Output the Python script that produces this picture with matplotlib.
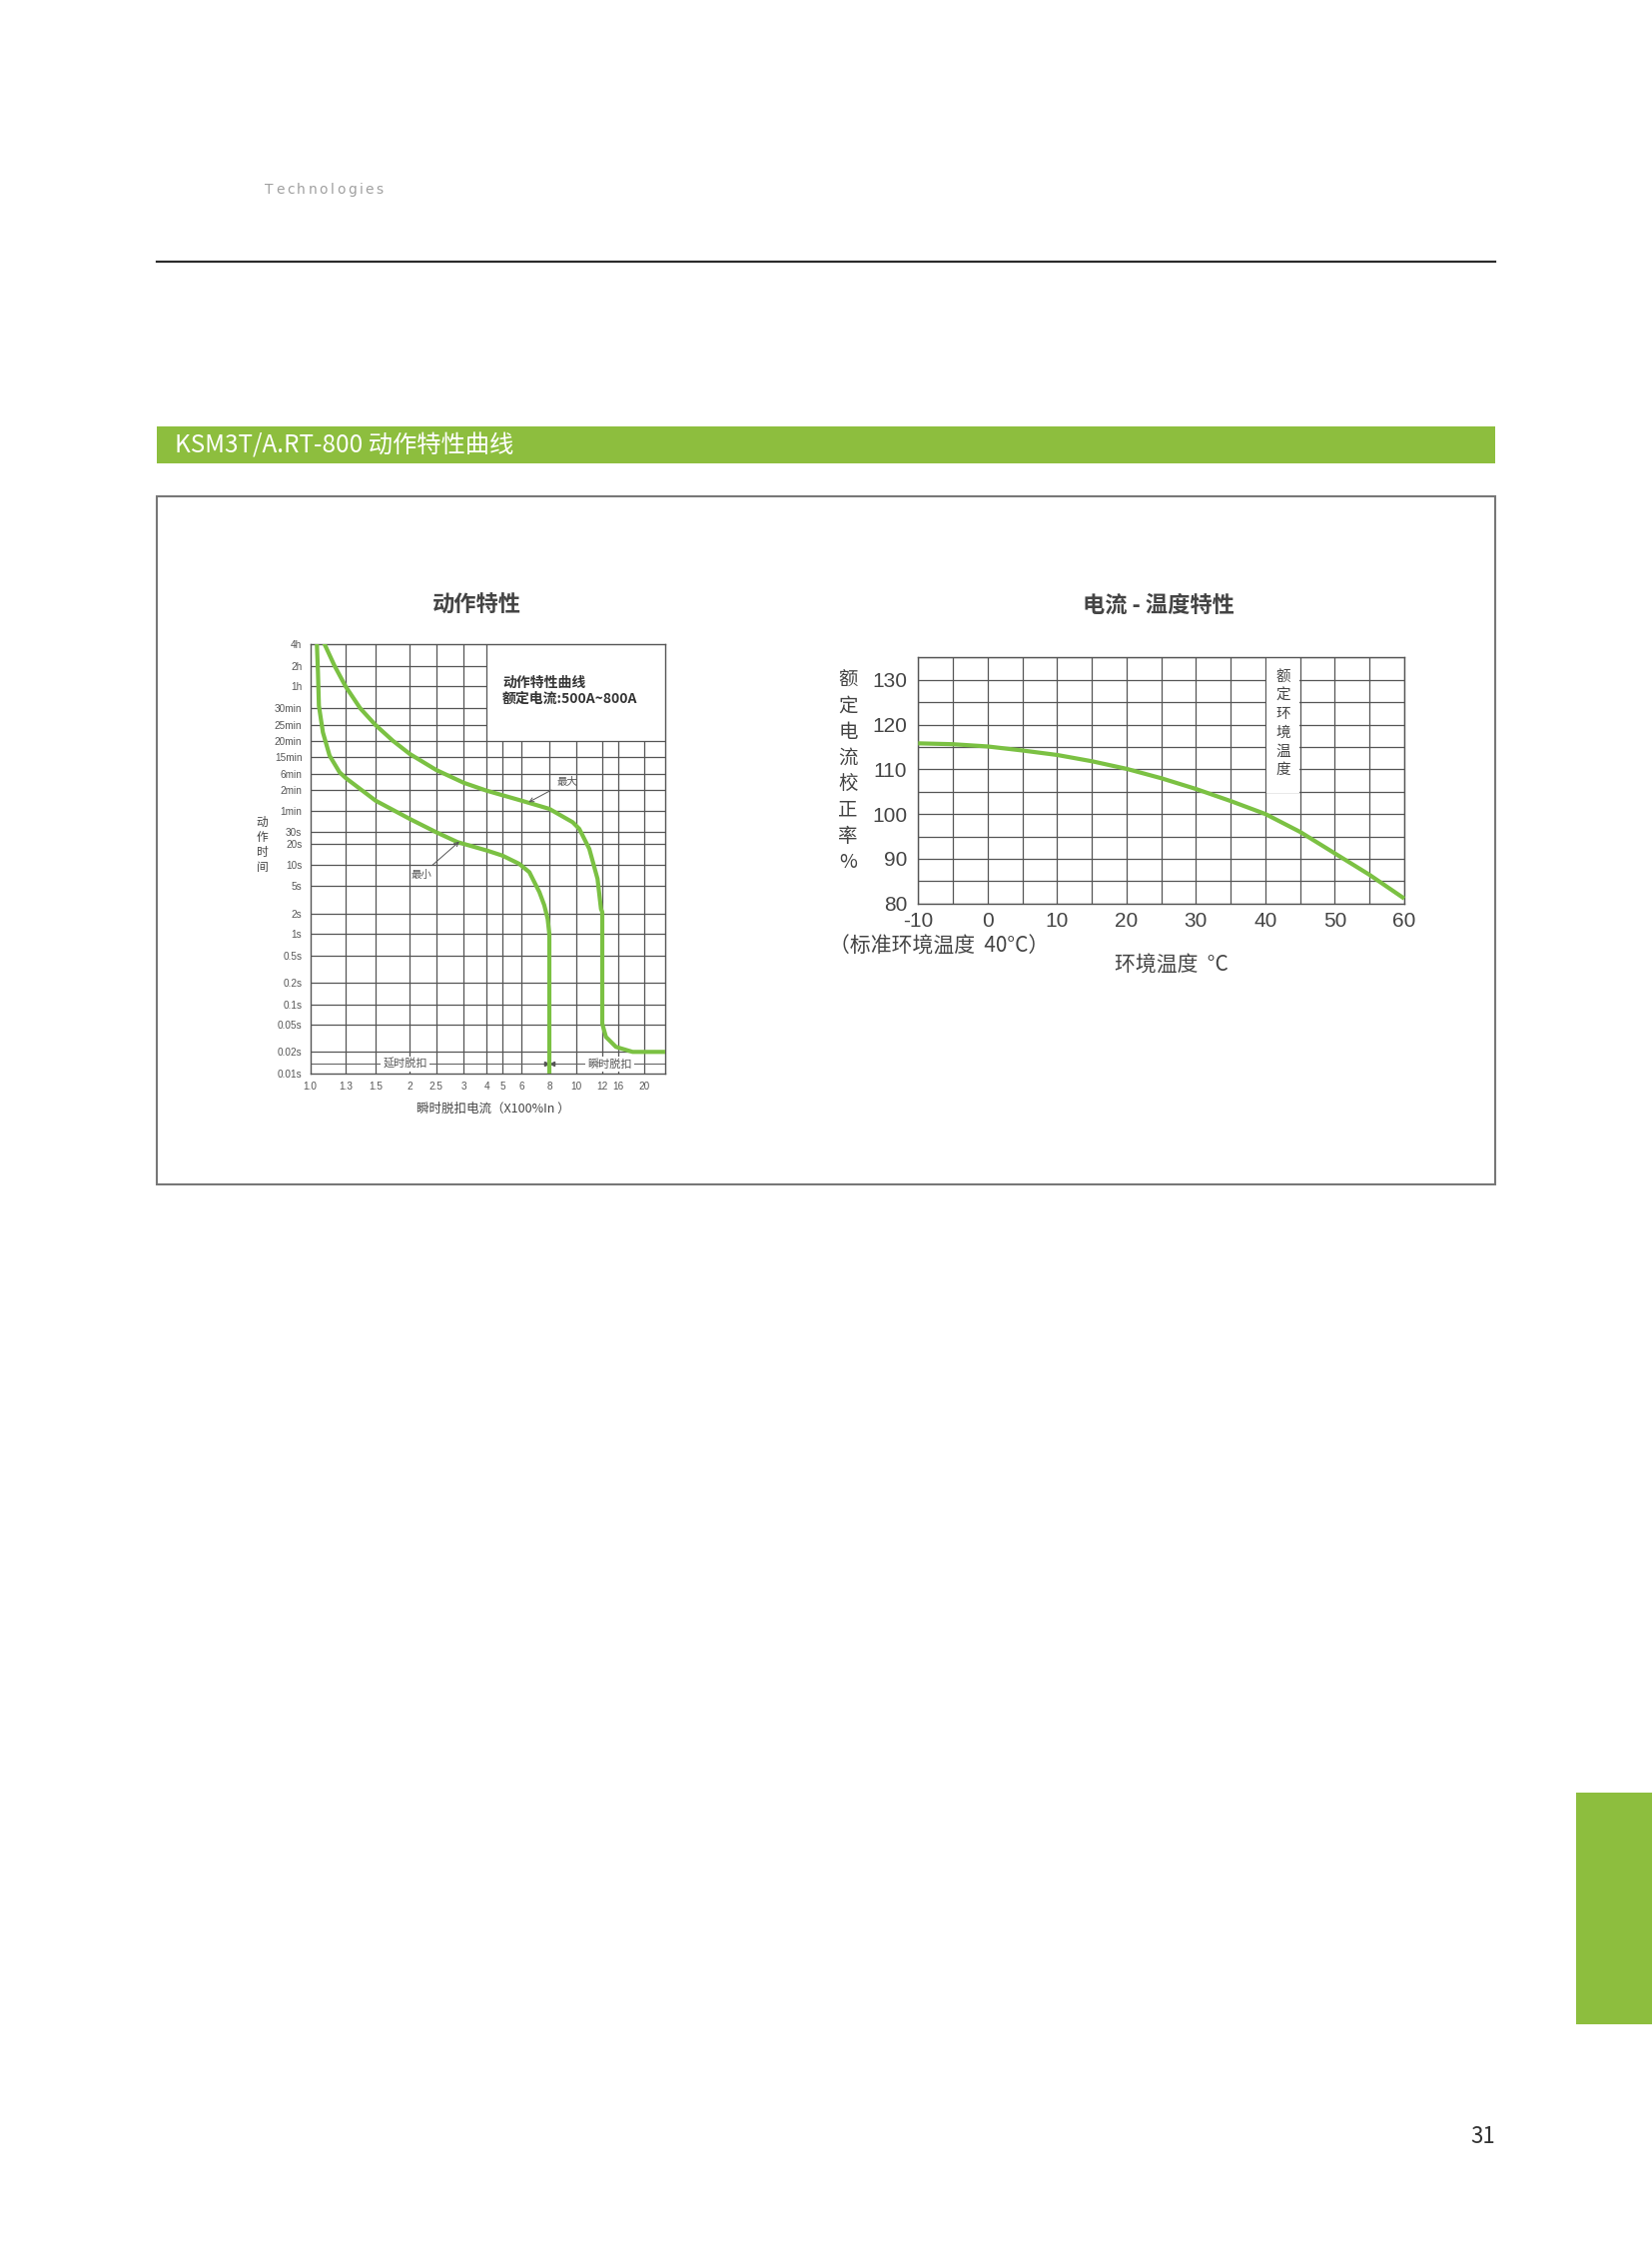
import numpy as np
import matplotlib
matplotlib.use('Agg')
import matplotlib.pyplot as plt
from matplotlib.patches import Rectangle

plt.rcParams['font.family'] = ['Noto Sans CJK SC', 'DejaVu Sans']
plt.rcParams['axes.unicode_minus'] = False
NUM_FONT = ['Liberation Sans', 'Noto Sans CJK SC']

# ---- left chart: trip curve (multiple of In vs. trip time in s) ----
x_tick_vals = [1.0, 1.3, 1.5, 2, 2.5, 3, 4, 5, 6, 8, 10, 12, 16, 20, 25]
x_tick_labels = ['1.0', '1.3', '1.5', '2', '2.5', '3', '4', '5', '6', '8', '10', '12', '16', '20', '']
y_tick_vals = [0.01, 0.02, 0.05, 0.1, 0.2, 0.5, 1, 2, 5, 10, 20, 30, 60, 120, 360,
               900, 1200, 1500, 1800, 3600, 7200, 14400]
y_tick_labels = ['0.01s', '0.02s', '0.05s', '0.1s', '0.2s', '0.5s', '1s', '2s', '5s', '10s',
                 '20s', '30s', '1min', '2min', '6min', '15min', '20min', '25min', '30min',
                 '1h', '2h', '4h']

# the printed grid is not evenly spaced, so the scale is defined by these breakpoints
x_scale_pos = [0, 35.3, 65.3, 99.6, 126, 153.6, 176.6, 192.3, 211.3, 239.3, 266.6, 292.3,
               308.6, 334.3, 355]
y_scale_pos = [0, 21.4, 48.7, 69.2, 90.4, 118, 139.4, 160, 187.4, 208.4, 229.7, 242, 263,
               284, 299.7, 316.4, 333, 348.7, 365.4, 387.4, 408, 429.4]

min_x = [1.056, 1.065, 1.073, 1.107, 1.164, 1.249, 1.3, 1.5, 2.0, 2.5, 2.89, 4, 5, 5.89,
         6.57, 7.29, 7.64, 7.88, 8, 8]
min_t = [14400, 6047, 2013, 1360, 929, 414, 300, 88.6, 48.1, 29.5, 21.4, 16.9, 14.5, 10.6,
         8.33, 4.34, 2.9, 1.74, 1, 0.01]

max_x = [1.122, 1.206, 1.3, 1.398, 1.5, 1.752, 2.0, 2.5, 3, 4, 6, 8, 9.71, 10.21, 10.99,
         11.63, 11.9, 12, 12, 12.9, 15.36, 18.2, 25]
max_t = [14400, 7200, 3600, 1800, 1500, 1200, 960, 490, 225, 117, 88.6, 65, 43.4, 33.9,
         17.65, 6.74, 2.51, 2.15, 0.0524, 0.0365, 0.0255, 0.02, 0.02]

# ---- right chart: current correction vs. ambient temperature ----
temp = [-10, -5, 0, 5, 10, 15, 20, 25, 30, 35, 40, 45, 50, 55, 60]
corr = [115.8, 115.6, 115.1, 114.2, 113.2, 111.8, 110.1, 108.0, 105.6, 102.9, 100.0,
        96.0, 91.2, 86.4, 81.1]

GREEN = '#8dbe3e'
LINE_GREEN = '#7bc143'
GRID = '#555555'
TXT = '#444444'

W, H = 1654, 2244


def px_axes(l, t, r, b):
    return [l / W, 1 - b / H, (r - l) / W, (b - t) / H]


fig = plt.figure(figsize=(W / 100, H / 100), dpi=100)
renderer = fig.canvas.get_renderer()

# page decoration layer (pixel coordinates, y down)
page = fig.add_axes([0, 0, 1, 1])
page.set_xlim(0, W)
page.set_ylim(H, 0)
page.axis('off')

# letter-spaced header word
x = 265
for ch in 'Technologies':
    t = page.text(x, 190, ch, fontsize=10, color='#a0a0a0', va='center',
                  family=['DejaVu Sans'])
    x += t.get_window_extent(renderer).width + 2.5

page.plot([157, 1497], [262, 262], color='#2b2b2b', lw=1.6)
page.add_patch(Rectangle((157, 427), 1340, 37, facecolor=GREEN, edgecolor='none'))
page.text(175, 446, 'KSM3T/A.RT-800 动作特性曲线', fontsize=17.5, color='white', va='center')
page.add_patch(Rectangle((157, 497), 1340, 689, facecolor='none', edgecolor='#777777', lw=1.5))
page.add_patch(Rectangle((1578, 1795), 76, 232, facecolor=GREEN, edgecolor='none'))
page.text(1485, 2139, '31', fontsize=16, color='#333333', ha='center', va='center')

page.text(477, 606, '动作特性', fontsize=16, color=TXT, weight='bold', ha='center', va='center')
page.text(1160, 606, '电流 - 温度特性', fontsize=16, color=TXT, weight='bold',
          ha='center', va='center')

for i, ch in enumerate('动作时间'):
    page.text(262.7, 823 + i * 15, ch, fontsize=8.5, color=TXT, ha='center', va='center')
page.text(494, 1110, '瞬时脱扣电流（X100%In ）', fontsize=9, color=TXT, ha='center', va='center')

for i, ch in enumerate('额定电流校正率%'):
    page.text(849, 681 + i * 26.1, ch, fontsize=14, color=TXT, ha='center', va='center')
page.text(830, 948, '（标准环境温度  40°C）', fontsize=15, color=TXT, ha='left', va='center')
page.text(1173, 967, '环境温度  °C', fontsize=15, color=TXT, ha='center', va='center')

# ---- left chart ----
ax1 = fig.add_axes(px_axes(310.7, 645.3, 665.7, 1074.7))
ax1.set_xscale('function', functions=(lambda v: np.interp(v, x_tick_vals, x_scale_pos),
                                      lambda p: np.interp(p, x_scale_pos, x_tick_vals)))
ax1.set_yscale('function', functions=(lambda v: np.interp(v, y_tick_vals, y_scale_pos),
                                      lambda p: np.interp(p, y_scale_pos, y_tick_vals)))
ax1.set_xlim(1.0, 25)
ax1.set_ylim(0.01, 14400)

box_x, box_t = 4, 1200   # legend box in the upper right of the grid
for v in x_tick_vals[1:-1]:
    top = 14400 if v <= box_x else box_t
    ax1.vlines(v, 0.01, top, color=GRID, lw=0.9, zorder=1)
for t in y_tick_vals[1:-1]:
    right = 25 if t <= box_t else box_x
    ax1.hlines(t, 1.0, right, color=GRID, lw=0.9, zorder=1)

trip_t = 0.0144
ax1.hlines(trip_t, 1.0, 25, color='#666666', lw=0.8, zorder=1)
ax1.text(1.93, trip_t, '延时脱扣', fontsize=8, color='#555555', ha='center', va='center',
         zorder=2, bbox=dict(facecolor='white', edgecolor='none', pad=1.5))
ax1.text(13.9, trip_t, '瞬时脱扣', fontsize=8, color='#555555', ha='center', va='center',
         zorder=2, bbox=dict(facecolor='white', edgecolor='none', pad=1.5))
ax1.plot([7.8], [trip_t], marker='>', ms=3, color='#555555', zorder=2)
ax1.plot([8.2], [trip_t], marker='<', ms=3, color='#555555', zorder=2)

ax1.plot(min_x, min_t, color=LINE_GREEN, lw=3, solid_joinstyle='round', zorder=3)
ax1.plot(max_x, max_t, color=LINE_GREEN, lw=3, solid_joinstyle='round', zorder=3)

ax1.text(5.0, 3250, '动作特性曲线\n额定电流:500A~800A', fontsize=10, color='#333333',
         weight='bold', ha='left', va='center', linespacing=1.2)
ax1.annotate('最大', xy=(6.52, 84), xytext=(9.3, 242), fontsize=7.5, color='#555555',
             ha='center', va='center', zorder=4,
             arrowprops=dict(arrowstyle='->', color='#555555', lw=0.7, shrinkA=2, shrinkB=0))
ax1.annotate('最小', xy=(2.92, 21.9), xytext=(2.22, 7.7), fontsize=7.5, color='#555555',
             ha='center', va='center', zorder=4,
             arrowprops=dict(arrowstyle='->', color='#555555', lw=0.7, shrinkA=2, shrinkB=0))

ax1.set_xticks(x_tick_vals)
ax1.set_xticklabels(x_tick_labels, family=NUM_FONT)
ax1.set_yticks(y_tick_vals)
ax1.set_yticklabels(y_tick_labels, family=NUM_FONT)
ax1.minorticks_off()
ax1.tick_params(length=0, labelsize=7.2, labelcolor='#555555')
ax1.tick_params(axis='x', pad=6)
ax1.tick_params(axis='y', pad=6)
for s in ax1.spines.values():
    s.set_color(GRID)
    s.set_linewidth(1.0)

# ---- right chart ----
ax2 = fig.add_axes(px_axes(919.3, 658.3, 1406, 904.7))
ax2.set_xlim(-10, 60)
ax2.set_ylim(80, 135)
ax2.set_xticks(range(-10, 61, 10))
ax2.set_xticks(range(-5, 60, 10), minor=True)
ax2.set_yticks(range(80, 131, 10))
ax2.set_yticks(range(85, 136, 10), minor=True)
ax2.grid(True, which='both', color=GRID, lw=0.9)
ax2.set_axisbelow(True)
ax2.tick_params(which='both', length=0)
ax2.tick_params(labelsize=15, labelcolor=TXT)
ax2.tick_params(axis='x', pad=6)
ax2.tick_params(axis='y', pad=8)
for lab in ax2.get_xticklabels() + ax2.get_yticklabels():
    lab.set_family(NUM_FONT)
for s in ax2.spines.values():
    s.set_color(GRID)
    s.set_linewidth(1.0)

ax2.add_patch(Rectangle((40.15, 104.8), 4.7, 30.1, facecolor='white', edgecolor='none',
                        zorder=1.5))
for i, ch in enumerate('额定环境温度'):
    ax2.text(42.5, 130.7 - i * 4.18, ch, fontsize=10.5, color=TXT, ha='center', va='center',
             zorder=2)

ax2.plot(temp, corr, color=LINE_GREEN, lw=3, solid_capstyle='butt', zorder=3, clip_on=False)

fig.savefig('out.png', dpi=100)
